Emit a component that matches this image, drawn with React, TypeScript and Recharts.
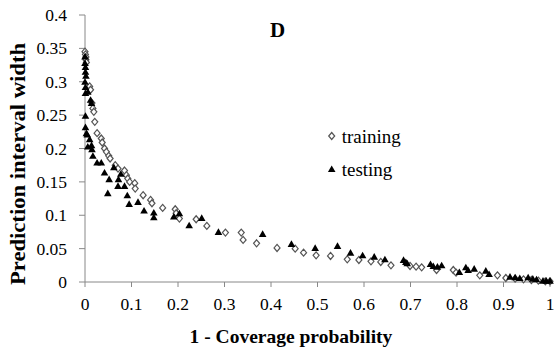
import React from "react";
import { ScatterChart, Scatter, XAxis, YAxis, Customized } from "recharts";

const trainingX = [0.000, 0.001, 0.002, 0.002, 0.003, 0.010, 0.012, 0.015, 0.017, 0.019, 0.021, 0.026, 0.035, 0.037, 0.042, 0.046, 0.051, 0.054, 0.065, 0.071, 0.085, 0.089, 0.092, 0.096, 0.107, 0.108, 0.125, 0.141, 0.144, 0.167, 0.194, 0.196, 0.203, 0.239, 0.262, 0.302, 0.336, 0.340, 0.369, 0.413, 0.452, 0.470, 0.497, 0.528, 0.564, 0.589, 0.615, 0.636, 0.658, 0.699, 0.712, 0.724, 0.756, 0.792, 0.798, 0.849, 0.887, 0.905, 0.925, 0.943, 0.960, 0.975, 0.990, 1.000];
const trainingY = [0.345, 0.341, 0.337, 0.333, 0.329, 0.293, 0.288, 0.268, 0.260, 0.255, 0.240, 0.223, 0.215, 0.209, 0.200, 0.195, 0.189, 0.185, 0.175, 0.170, 0.167, 0.160, 0.155, 0.150, 0.148, 0.140, 0.130, 0.123, 0.118, 0.111, 0.109, 0.103, 0.095, 0.094, 0.084, 0.074, 0.074, 0.063, 0.058, 0.051, 0.050, 0.044, 0.040, 0.039, 0.034, 0.033, 0.031, 0.030, 0.025, 0.024, 0.023, 0.022, 0.018, 0.018, 0.014, 0.010, 0.010, 0.006, 0.005, 0.004, 0.003, 0.002, 0.001, 0.001];

const testingX = [0.000, 0.000, 0.001, 0.001, 0.002, 0.000, 0.001, 0.001, 0.006, 0.012, 0.014, 0.001, 0.001, 0.003, 0.005, 0.010, 0.006, 0.014, 0.015, 0.017, 0.026, 0.035, 0.062, 0.042, 0.052, 0.077, 0.072, 0.071, 0.085, 0.049, 0.091, 0.095, 0.114, 0.127, 0.148, 0.148, 0.191, 0.203, 0.224, 0.251, 0.287, 0.382, 0.444, 0.495, 0.543, 0.571, 0.597, 0.622, 0.645, 0.685, 0.690, 0.693, 0.743, 0.749, 0.758, 0.767, 0.805, 0.819, 0.824, 0.837, 0.862, 0.869, 0.914, 0.925, 0.935, 0.953, 0.963, 0.971, 0.985, 0.992, 1.000];
const testingY = [0.338, 0.328, 0.322, 0.315, 0.309, 0.300, 0.292, 0.283, 0.285, 0.273, 0.268, 0.249, 0.232, 0.223, 0.221, 0.214, 0.203, 0.205, 0.199, 0.189, 0.179, 0.179, 0.172, 0.164, 0.154, 0.162, 0.154, 0.144, 0.144, 0.133, 0.130, 0.117, 0.120, 0.107, 0.104, 0.097, 0.098, 0.103, 0.085, 0.096, 0.075, 0.072, 0.057, 0.051, 0.054, 0.044, 0.040, 0.038, 0.034, 0.033, 0.030, 0.028, 0.027, 0.024, 0.023, 0.025, 0.015, 0.022, 0.018, 0.020, 0.017, 0.012, 0.008, 0.007, 0.006, 0.007, 0.005, 0.004, 0.002, 0.002, 0.002];

const xTicks = [0, 0.1, 0.2, 0.3, 0.4, 0.5, 0.6, 0.7, 0.8, 0.9, 1];
const yTicks = [0, 0.05, 0.1, 0.15, 0.2, 0.25, 0.3, 0.35, 0.4];

const trainingData = trainingX.map((x, i) => ({ x, y: trainingY[i] }));
const testingData = testingX.map((x, i) => ({ x, y: testingY[i] }));

const SERIF = "'Times New Roman', 'Liberation Serif', 'DejaVu Serif', serif";

const Diamond = (props: any) => {
  const { cx, cy } = props;
  if (cx == null || cy == null) return null;
  return (
    <polygon
      points={`${cx},${cy - 3.5} ${cx + 3},${cy} ${cx},${cy + 3.5} ${cx - 3},${cy}`}
      fill="#fff"
      stroke="#555"
      strokeWidth={1.2}
    />
  );
};

const Triangle = (props: any) => {
  const { cx, cy } = props;
  if (cx == null || cy == null) return null;
  return (
    <polygon
      points={`${cx},${cy - 3.6} ${cx + 3.8},${cy + 3} ${cx - 3.8},${cy + 3}`}
      fill="#000"
    />
  );
};

const fmt = (v: number) => String(Math.round(v * 100) / 100);

const XTick = (props: any) => {
  const { x, y, payload } = props;
  return (
    <text x={x} y={y + 23} textAnchor="middle" fontFamily={SERIF} fontSize={17.5} fill="#000">
      {fmt(payload.value)}
    </text>
  );
};

const YTick = (props: any) => {
  const { x, y, payload } = props;
  return (
    <text x={x - 12} y={y + 6} textAnchor="end" fontFamily={SERIF} fontSize={17.5} fill="#000">
      {fmt(payload.value)}
    </text>
  );
};

const Extras = () => (
  <g fontFamily={SERIF}>
    <text x={277.5} y={37} textAnchor="middle" fontFamily={SERIF} fontWeight="bold" fontSize={21} fill="#000">D</text>
    <text
      x={25}
      y={164}
      transform="rotate(-90 25 164)"
      textAnchor="middle"
      fontFamily={SERIF}
      fontWeight="bold"
      fontSize={20}
      textLength={242}
      lengthAdjust="spacingAndGlyphs"
      fill="#000"
    >
      Prediction interval width
    </text>
    <text x={291} y={343} textAnchor="middle" fontFamily={SERIF} fontWeight="bold" fontSize={19.5} fill="#000">1 - Coverage probability</text>
    <Diamond cx={331.7} cy={136} />
    <text x={341.7} y={143.3} fontFamily={SERIF} fontSize={19} fill="#000">training</text>
    <Triangle cx={331.7} cy={169} />
    <text x={341.7} y={175.5} fontFamily={SERIF} fontSize={19} fill="#000">testing</text>
  </g>
);

export default function App() {
  return (
    <div style={{ width: 555, height: 352, overflow: "visible", fontFamily: SERIF }}>
      <style>{"html,body{margin:0;padding:0;overflow:hidden;}"}</style>
      <ScatterChart width={555} height={352} margin={{ top: 15, right: 5, bottom: 0, left: 0 }} style={{ overflow: "visible" }}>
        <XAxis
          type="number"
          dataKey="x"
          domain={[0, 1]}
          ticks={xTicks}
          interval={0}
          height={70}
          tickSize={5}
          tickMargin={0}
          stroke="#888"
          tick={<XTick />}
          tickLine={{ stroke: "#888" }}
          axisLine={{ stroke: "#888" }}
          padding={{ left: 0, right: 0 }}
        />
        <YAxis
          type="number"
          dataKey="y"
          domain={[0, 0.4]}
          ticks={yTicks}
          interval={0}
          width={85}
          tickSize={6}
          tickMargin={0}
          stroke="#888"
          tick={<YTick />}
          tickLine={{ stroke: "#888" }}
          axisLine={{ stroke: "#888" }}
        />
        <Scatter name="training" data={trainingData} shape={Diamond} isAnimationActive={false} />
        <Scatter name="testing" data={testingData} shape={Triangle} isAnimationActive={false} />
        <Customized component={Extras} />
      </ScatterChart>
    </div>
  );
}
